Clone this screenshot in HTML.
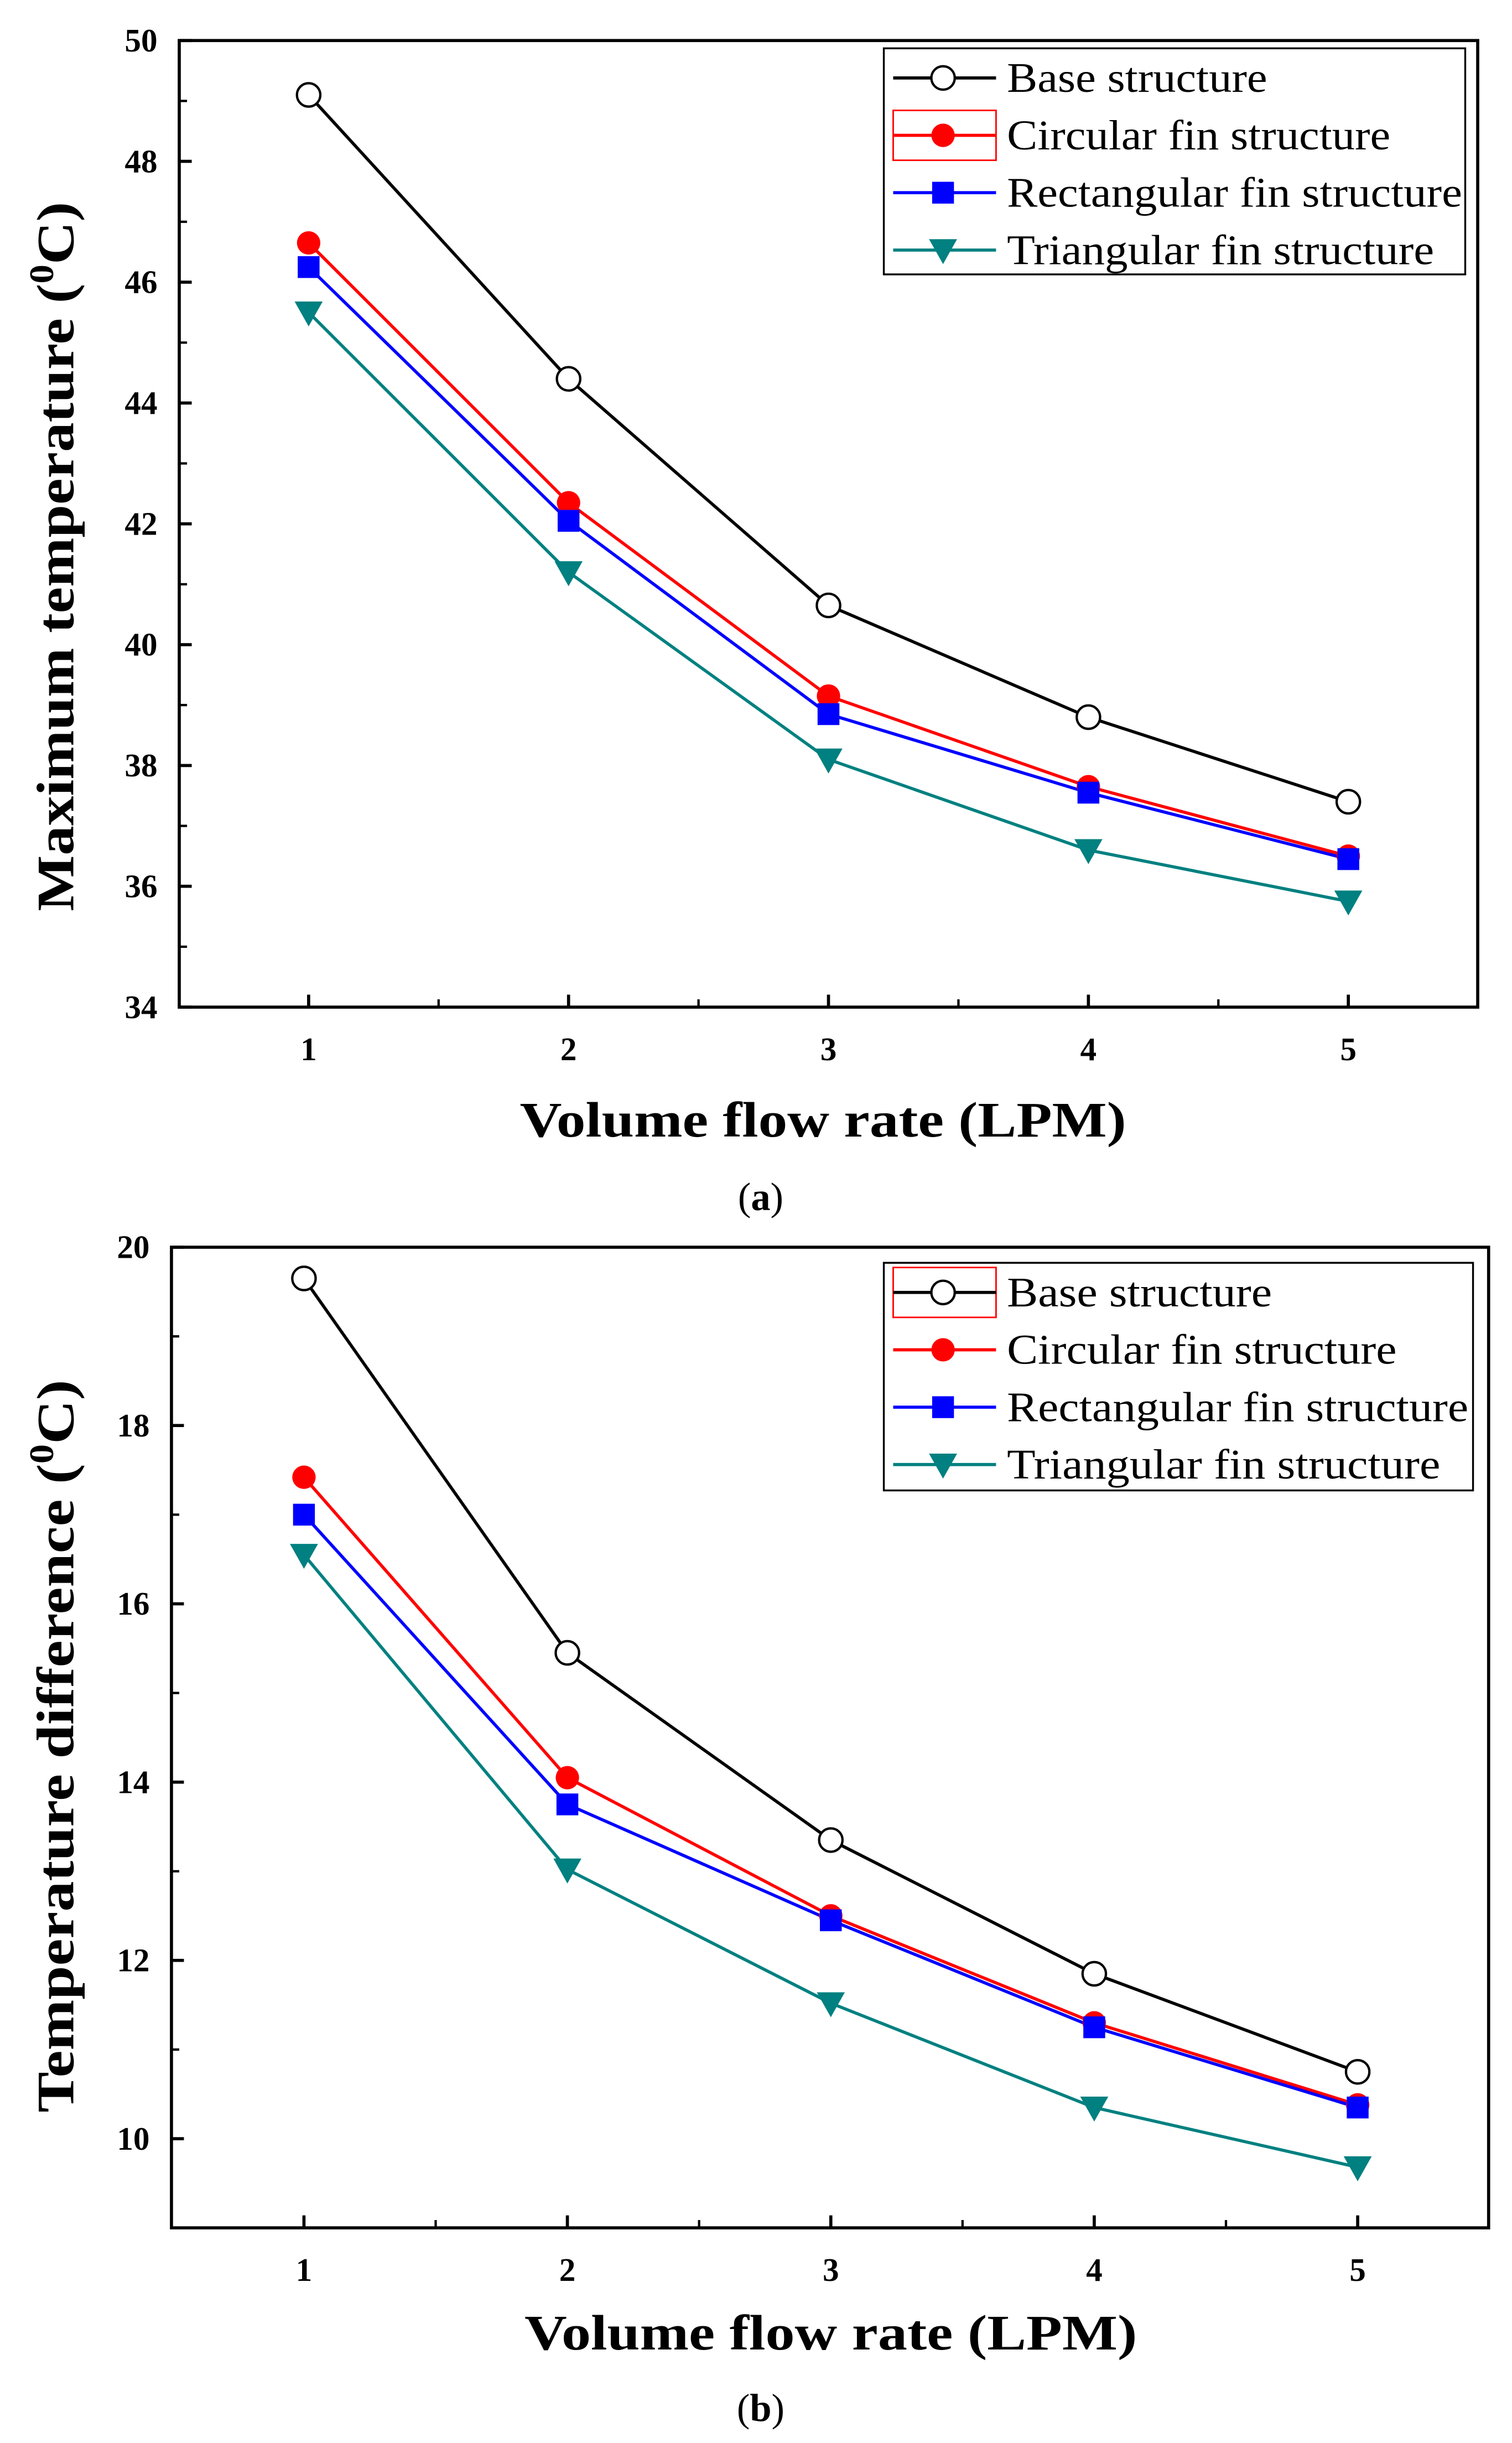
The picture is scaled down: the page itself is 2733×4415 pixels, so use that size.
<!DOCTYPE html>
<html><head><meta charset="utf-8"><style>
html,body{margin:0;padding:0;background:#fff;}
svg{display:block;}
text{font-family:"Liberation Serif",serif;}
</style></head><body>
<svg id="fig" width="2733" height="4415" viewBox="0 0 970 1567" preserveAspectRatio="none" xmlns="http://www.w3.org/2000/svg"></svg>
<script>
const xCats = [1,2,3,4,5];
const seriesNames = ["Base structure","Circular fin structure","Rectangular fin structure","Triangular fin structure"];
const aBase = [49.1,44.4,40.65,38.8,37.4];
const aCirc = [46.65,42.35,39.15,37.65,36.5];
const aRect = [46.25,42.05,38.85,37.55,36.45];
const aTri  = [45.5,41.2,38.1,36.6,35.75];
const bBase = [19.65,15.45,13.35,11.85,10.75];
const bCirc = [17.42,14.05,12.5,11.3,10.38];
const bRect = [17.0,13.75,12.45,11.25,10.35];
const bTri  = [16.55,13.02,11.52,10.35,9.68];
const aYTicks = [34,36,38,40,42,44,46,48,50];
const bYTicks = [10,12,14,16,18,20];

const NS="http://www.w3.org/2000/svg";
const svg=document.getElementById('fig');
function mk(tag,attrs,parent){const e=document.createElementNS(NS,tag);for(const k in attrs)e.setAttribute(k,attrs[k]);(parent||svg).appendChild(e);return e;}
const colors=["#000000","#ff0000","#0000ff","#008080"];
function marker(g,i,x,y){
  let m;
  if(i===0){m=mk('circle',{cx:x,cy:y,r:7.5,fill:'#fff',stroke:'#000','stroke-width':1.5},g);}
  else if(i===1){m=mk('circle',{cx:x,cy:y,r:7.5,fill:'#ff0000'},g);}
  else if(i===2){m=mk('rect',{x:x-7,y:y-7,width:14,height:14,fill:'#0000ff'},g);}
  else {m=mk('polygon',{points:`${x-9},${y-7} ${x+9},${y-7} ${x},${y+9}`,fill:'#008080'},g);}
  
  
}
function chart(o){
  const g=mk('g',{});
  
  
  const X=v=>o.x1+(v-1)*(o.x5-o.x1)/4;
  const Y=v=>o.bottom-(v-o.ymin)*(o.bottom-o.top)/(o.ymax-o.ymin);
  const frame=mk('rect',{x:o.left,y:o.top,width:o.right-o.left,height:o.bottom-o.top,fill:'none',stroke:'#000','stroke-width':2},g);
  
  
  o.yTicks.forEach((v,k)=>{
    mk('line',{x1:o.left,x2:o.left+8,y1:Y(v),y2:Y(v),stroke:'#000','stroke-width':2},g);
    if(k<o.yTicks.length-1){const m=(v+o.yTicks[k+1])/2;mk('line',{x1:o.left,x2:o.left+5,y1:Y(m),y2:Y(m),stroke:'#000','stroke-width':1.5},g);}
    const t=mk('text',{x:o.left-14,y:Y(v)+7,'text-anchor':'end','font-size':21,'font-weight':'bold'},g);
    t.textContent=v;
    
    
  });
  xCats.forEach((v,k)=>{
    mk('line',{x1:X(v),x2:X(v),y1:o.bottom,y2:o.bottom-8,stroke:'#000','stroke-width':2},g);
    if(k<xCats.length-1){mk('line',{x1:X(v+0.5),x2:X(v+0.5),y1:o.bottom,y2:o.bottom-5,stroke:'#000','stroke-width':1.5},g);}
    const t=mk('text',{x:X(v),y:o.bottom+34,'text-anchor':'middle','font-size':21,'font-weight':'bold'},g);
    t.textContent=v;
    
    
  });
  o.series.forEach((s,i)=>{
    const pl=mk('polyline',{points:s.map((v,k)=>X(xCats[k])+','+Y(v)).join(' '),fill:'none',stroke:colors[i],'stroke-width':2},g);
    
    
  });
  o.series.forEach((s,i)=>{s.forEach((v,k)=>marker(g,i,X(xCats[k]),Y(v)));});
  const L=o.legend;
  const lg=mk('g',{},g);
  
  
  mk('rect',{x:L.x,y:L.y,width:L.w,height:L.h,fill:'#fff',stroke:'#000','stroke-width':1.2},lg);
  seriesNames.forEach((n,i)=>{
    const yy=L.y+19+i*36.8;
    const e=mk('g',{},lg);
    
    
    if(i===L.red) mk('rect',{x:L.x+6,y:yy-16,width:66,height:32,fill:'none',stroke:'#ff0000','stroke-width':1},e);
    mk('line',{x1:L.x+6,x2:L.x+72,y1:yy,y2:yy,stroke:colors[i],'stroke-width':2},e);
    marker(e,i,L.x+38,yy);
    const t=mk('text',{x:L.x+79,y:yy+9,'font-size':27,textLength:L.lens[i],lengthAdjust:'spacingAndGlyphs'},e);
    t.textContent=n;
  });
  const xt=mk('text',{x:o.xtX-o.xtLen/2,y:o.xtY,'font-size':32,'font-weight':'bold',textLength:o.xtLen,lengthAdjust:'spacingAndGlyphs'},g);
  xt.textContent='Volume flow rate (LPM)';
  
  
  const yt=mk('text',{x:-o.ytLen/2,y:0,'font-size':34,'font-weight':'bold',textLength:o.ytLen,lengthAdjust:'spacingAndGlyphs',transform:`translate(${o.ytX},${o.ytY}) rotate(-90)`},g);
  yt.innerHTML=o.ytitle+' (<tspan font-size="22" dy="-13">0</tspan><tspan dy="13">C)</tspan>';
  
  
  const cap=mk('text',{x:488,y:o.capY,'text-anchor':'middle','font-size':25},g);
  cap.innerHTML='(<tspan font-weight="bold">'+o.cap+'</tspan>)';
  
  
}
chart({name:'chart-a',left:115,right:948,top:26,bottom:646,ymin:34,ymax:50,x1:198,x5:865,yTicks:aYTicks,
  series:[aBase,aCirc,aRect,aTri],legend:{x:567,y:31,w:373,h:145,red:1,lens:[167,246,292,274]},
  xtX:528,xtY:729,xtLen:389,ytX:47,ytY:357,ytLen:455,ytitle:'Maximum temperature',cap:'a',capY:776});
chart({name:'chart-b',left:110,right:955,top:800,bottom:1429,ymin:9,ymax:20,x1:195,x5:871,yTicks:bYTicks,
  series:[bBase,bCirc,bRect,bTri],legend:{x:567,y:810,w:378,h:146,red:0,lens:[170,250,296,278]},
  xtX:533,xtY:1507,xtLen:393,ytX:47,ytY:1120,ytLen:470,ytitle:'Temperature difference',cap:'b',capY:1553});
</script>
</body></html>
